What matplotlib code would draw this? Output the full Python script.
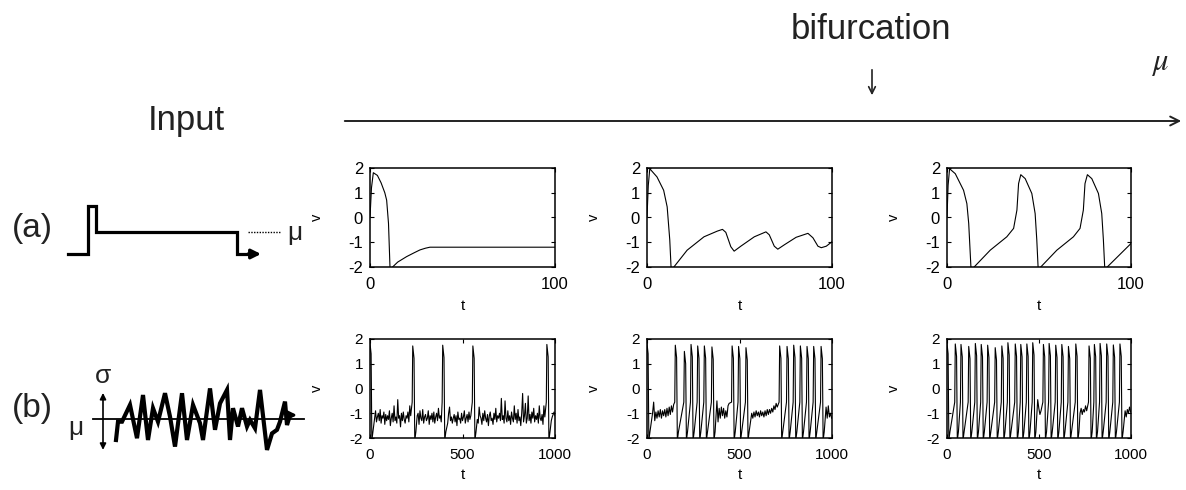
import matplotlib
matplotlib.use("Agg")
import matplotlib.pyplot as plt
import numpy as np

plt.rcParams["font.family"] = ["Liberation Sans", "DejaVu Sans"]
plt.rcParams["axes.unicode_minus"] = False

W, H = 1186, 490

# ---------------------------------------------------------------------------
# data
# ---------------------------------------------------------------------------
# row (a): deterministic input, t = 0..100
a1_t = [0, 0.8, 1.8, 4, 6, 8, 9, 10, 10.8, 11.5, 12.2, 15, 19.8, 24, 27, 30, 32.4, 40, 100]
a1_v = [0, 1.2, 1.81, 1.7, 1.4, 1.0, 0.7, -0.24, -2.0, -2.1, -2.0, -1.8, -1.58, -1.42, -1.31, -1.24, -1.2, -1.2, -1.2]

a2_t = [0, 0.7, 1.5, 5.4, 9, 10.9, 12.3, 13, 14, 21.7, 30.8, 38, 40.8, 42.6, 45.3, 47.1, 50.7, 58, 64.3,
        66.1, 68.8, 70.7, 74.3, 80.6, 87, 89.7, 92.4, 94.2, 96.9, 100]
a2_v = [0, 1.3, 1.97, 1.64, 1.1, 0.43, -0.9, -2.0, -2.05, -1.32, -0.78, -0.55, -0.48, -0.6, -1.18, -1.36, -1.16,
        -0.78, -0.58, -0.7, -1.16, -1.28, -1.1, -0.8, -0.64, -0.82, -1.16, -1.22, -1.16, -0.98]

a3_t = [0, 0.6, 1.4, 4.5, 9, 10.8, 11.8, 13, 14.1, 23.5, 32.5, 36.2, 38, 38.9, 40.1, 42.5, 46.1, 47.9, 48.8,
        49.5, 50.3, 59.7, 68.7, 72.3, 74.1, 75, 76.3, 78.7, 82.3, 84.1, 85, 85.7, 86.4, 100]
a3_v = [0, 1.3, 1.97, 1.77, 1.1, 0.56, -0.24, -2.0, -2.05, -1.32, -0.78, -0.44, 0.3, 1.37, 1.73, 1.57, 0.97,
        0.16, -0.91, -2.0, -2.05, -1.32, -0.78, -0.44, 0.3, 1.37, 1.73, 1.57, 0.97, 0.16, -0.91, -2.0, -2.05, -1.05]

# row (b): noisy input, t = 0..1000 -- spike onsets, peak heights, quiet stretches
b1_onsets = [-4, 228, 390, 553, 953]
b1_peaks = [1.9, 1.72, 1.75, 1.72, 1.78]
b1_quiet = [(0, [
    -1.3, -1.5, -1.2, -1.4, -1.1, -1.25, -0.9, -1.35, -1.15, -1.0,
    -1.3, -0.85, -1.4, -1.1, -1.2, -0.95, -1.45, -1.05, -1.3, -1.1,
    -1.25, -0.9, -1.5, -1.2, -1.0, -1.35, -0.7, -1.3, -1.15, -1.4,
    -0.45, -1.2, -1.1, -1.55, -1.0, -1.3, -0.95, -1.25, -1.4, -1.1,
    -1.2, -0.95, -1.35, -0.7, -1.1, -1.3, -1.2, -1.0, -1.4, -1.2,
    -1.35, -1.1, -1.0, -1.45, -0.9, -1.2, -1.3, -0.85, -1.4, -1.15,
    -1.05, -1.3, -1.2, -0.9, -1.45, -1.1, -1.25, -1.0, -1.35, -0.95,
    -1.4, -1.15, -1.0, -1.3, -0.8, -1.2, -1.1, -1.35, -1.2, -1.0,
    -1.3, -1.2, -0.85, -1.25, -1.4, -1.0, -0.75, -1.3, -1.15, -1.4,
    -1.2, -1.05, -1.35, -1.1, -1.5, -0.95, -1.25, -1.2, -1.4, -1.0,
    -1.3, -1.15, -0.9, -1.4, -1.2, -1.05, -1.35, -0.95, -1.25, -1.1,
    -1.3, -1.2, -1.1, -1.35, -1.0, -0.6, -1.25, -1.4, -0.75, -1.1,
    -1.2, -1.45, -1.0, -1.3, -0.9, -1.2, -1.35, -1.05, -1.5, -1.1,
    -0.95, -1.3, -1.2, -1.45, -1.0, -1.25, -0.8, -1.35, -1.1, -1.2,
    -1.0, -1.3, -0.4, -1.25, -1.1, -1.4, -0.5, -1.2, -1.35, -0.9,
    -1.3, -1.1, -1.45, -0.95, -1.2, -1.35, -0.7, -1.25, -1.0, -1.4,
    -0.85, -1.3, -1.15, -1.5, -1.0, -0.2, -1.35, -1.1, -0.6, -1.4,
    -1.2, -0.3, -1.3, -1.05, -1.4, -0.95, -1.2, -0.8, -1.35, -1.1,
    -1.25, -1.0, -1.4, -0.7, -1.2, -1.3, -1.05, -1.45, -0.7, -1.15,
    -1.3, -1.2, -1.1, -1.35, -1.2, -1.0, -1.3, -1.15, -1.05, -0.95,
    -1.1])]
b1_step = 5

b2_onsets = [-4, 150, 199, 235, 271, 307, 348, 457, 492, 532, 714, 754, 790, 826, 862, 898, 938]
b2_peaks = [1.9, 1.75, 1.5, 1.78, 1.72, 1.72, 1.68, 1.72, 1.7, 1.65, 1.72, 1.7, 1.75, 1.72, 1.7, 1.7, 1.7]
b2_quiet = [
    (30, [-1.0, -0.55, -1.3, -0.95, -1.2, -0.9, -1.15, -0.85, -1.2, -0.9, -1.1, -0.85,
          -1.15, -0.8, -1.1, -0.75, -1.05, -0.7, -0.95, -0.65]),
    (378, [-0.5, -1.35, -0.8, -1.2, -0.75, -1.1, -0.8, -1.2, -0.9, -1.15, -0.7, -0.6]),
    (566, [-1.0, -1.2, -0.95, -1.15, -0.9, -1.1, -0.95, -1.15, -0.9, -1.1, -0.95, -1.15,
           -0.9, -1.1, -0.85, -1.05, -0.85, -1.0, -0.8, -0.95, -0.7, -0.85, -0.6, -0.75]),
    (968, [-0.75, -1.2, -0.7, -1.15, -1.0, -1.2]),
]
b2_step = 6

b3_onsets = [-4, 42, 73, 115, 151, 183, 218, 259, 295, 328, 368, 398, 431, 463, 521, 552, 588, 621,
             657, 697, 769, 798, 829, 865, 901, 937]
b3_peaks = [1.9, 1.8, 1.78, 1.7, 1.82, 1.78, 1.75, 1.65, 1.72, 1.85, 1.8, 1.78, 1.8, 1.85, 1.78, 1.82,
            1.75, 1.78, 1.7, 1.8, 1.72, 1.78, 1.82, 1.8, 1.76, 1.8]
b3_quiet = [
    (487, [-0.6, -0.45, -0.8, -1.05, -0.9, -1.1]),
    (723, [-1.0, -0.8, -1.05, -0.85, -0.95, -0.7, -0.9, -0.6, -0.75, -0.5]),
    (962, [-1.05, -0.9, -1.15, -0.85, -1.0, -0.75, -0.95]),
]
b3_step = 6

# input sketches
input_a_t = [0, 20, 20, 28, 28, 169, 169, 182]
input_a_v = [0, 0, 1, 1, 0.46, 0.46, 0, 0]
noise_b_x = [116, 118, 122, 130, 137, 143, 148, 153, 158, 165, 170, 175, 182, 187, 193, 200, 203, 210,
             215, 220, 227, 230, 233, 238, 242, 247, 250, 255, 260, 267, 272, 277, 280, 285, 287, 290]
noise_b_v = [-0.70, -0.09, -0.09, 0.47, -0.64, 0.80, -0.70, 0.36, -0.09, 0.86, 0.08, -0.92, 0.86,
             -0.70, 0.47, -0.14, -0.70, 1.02, -0.36, 0.52, 0.97, -0.70, 0.36, -0.25, 0.36, -0.25,
             -0.03, -0.31, 0.97, -1.03, -0.48, -0.36, -0.09, 0.58, -0.2, 0.13]


def spike_trace(onsets, peaks, quiet, step):
    pts = []
    for o, p in zip(onsets, peaks):
        pts += [(o, -0.55), (o + 3, p), (o + 10, p - 0.5), (o + 14, -2.1), (o + 20, -1.75)]
    for start, vals in quiet:
        for i, v in enumerate(vals):
            t = start + i * step
            if not any(o - 4 <= t < o + 26 for o in onsets):
                pts.append((t, v))
    pts.sort()
    return np.array(pts).T


def px_box(l, t, r, b):
    return [l / W, 1 - b / H, (r - l) / W, (b - t) / H]


def style(ax, xmax, xticks, size):
    ax.set_xlim(0, xmax)
    ax.set_ylim(-2, 2)
    ax.set_xticks(xticks)
    ax.set_yticks([-2, -1, 0, 1, 2])
    ax.tick_params(direction="in", top=True, right=True, length=3, width=0.8,
                   labelsize=size, pad=5)
    ax.tick_params(axis="x", pad=7)
    for s in ax.spines.values():
        s.set_linewidth(1.1)
    ax.set_xlabel("t", fontsize=11)
    ax.set_ylabel("v", fontsize=10.5)
    ax.yaxis.set_label_coords(-46 / 185, 0.5)


fig = plt.figure(figsize=(W / 100, H / 100), dpi=100)

cols = [(370, 555), (647, 832), (947, 1131)]
row_a = [(a1_t, a1_v), (a2_t, a2_v), (a3_t, a3_v)]
row_b = [spike_trace(b1_onsets, b1_peaks, b1_quiet, b1_step),
         spike_trace(b2_onsets, b2_peaks, b2_quiet, b2_step),
         spike_trace(b3_onsets, b3_peaks, b3_quiet, b3_step)]

for (l, r), (t, v) in zip(cols, row_a):
    ax = fig.add_axes(px_box(l, 168, r, 267))
    ax.plot(t, v, color="black", lw=0.8)
    style(ax, 100, [0, 100], 12)
    ax.xaxis.set_label_coords(0.5, -32 / 99)

for (l, r), (t, v) in zip(cols, row_b):
    ax = fig.add_axes(px_box(l, 339, r, 438))
    ax.plot(t, v, color="black", lw=0.8)
    style(ax, 1000, [0, 500, 1000], 11)
    ax.xaxis.set_label_coords(0.5, -30 / 99)

# input sketch (a)
sa = fig.add_axes(px_box(68, 206, 300, 254))
sa.set_xlim(0, 232)
sa.set_ylim(0, 1)
sa.axis("off")
sa.plot(input_a_t, input_a_v, color="black", lw=2.3, clip_on=False, solid_joinstyle="miter")
sa.annotate("", xy=(193, 0), xytext=(180, 0),
            arrowprops=dict(arrowstyle="-|>", color="black", lw=2.3, mutation_scale=14,
                            shrinkA=0, shrinkB=0), annotation_clip=False)
sa.plot([180, 212], [0.46, 0.46], color="black", lw=1, ls=(0, (1, 1)), clip_on=False)
sa.text(227, 0.44, "μ", fontsize=19, ha="center", va="center", color="#222222")

# input sketch (b)
sb = fig.add_axes(px_box(90, 380, 310, 455))
sb.set_xlim(90, 310)
sb.set_ylim(-1.2, 1.3)
sb.axis("off")
sb.plot([93, 304], [0, 0], color="black", lw=1.3, clip_on=False)
sb.plot(noise_b_x, noise_b_v, color="black", lw=3, clip_on=False, solid_joinstyle="miter")
sb.annotate("", xy=(297, 0.13), xytext=(289, 0.13),
            arrowprops=dict(arrowstyle="-|>", color="black", lw=2, mutation_scale=14,
                            shrinkA=0, shrinkB=0), annotation_clip=False)
sb.annotate("", xy=(103, 0.87), xytext=(103, -1.03),
            arrowprops=dict(arrowstyle="<|-|>", color="black", lw=1.2, mutation_scale=9,
                            shrinkA=0, shrinkB=0), annotation_clip=False)
sb.text(103, 1.45, "σ", fontsize=19, ha="center", va="center", color="#222222")
sb.text(76, -0.3, "μ", fontsize=19, ha="center", va="center", color="#222222")

# labels and the parameter axis
fig.text(32 / W, 1 - 228 / H, "(a)", fontsize=24, ha="center", va="center", color="#222222")
fig.text(32 / W, 1 - 408 / H, "(b)", fontsize=24, ha="center", va="center", color="#222222")
fig.text(186 / W, 1 - 130 / H, "Input", fontsize=25, ha="center", va="baseline", color="#222222")
fig.text(871 / W, 1 - 39 / H, "bifurcation", fontsize=25, ha="center", va="baseline", color="#222222")
fig.add_artist(matplotlib.patches.FancyArrowPatch(
    (872 / W, 1 - 67 / H), (872 / W, 1 - 98 / H), transform=fig.transFigure,
    arrowstyle="->", mutation_scale=12, lw=1.2, color="#222222"))
fig.text(1160 / W, 1 - 63 / H, r"$\mu$", fontsize=22, ha="center", va="center", color="#222222",
         math_fontfamily="stix")
fig.add_artist(matplotlib.patches.FancyArrowPatch(
    (342 / W, 1 - 121 / H), (1184 / W, 1 - 121 / H), transform=fig.transFigure,
    arrowstyle="->", mutation_scale=16, lw=1.4, color="#222222"))

fig.savefig("out.png", dpi=100)
